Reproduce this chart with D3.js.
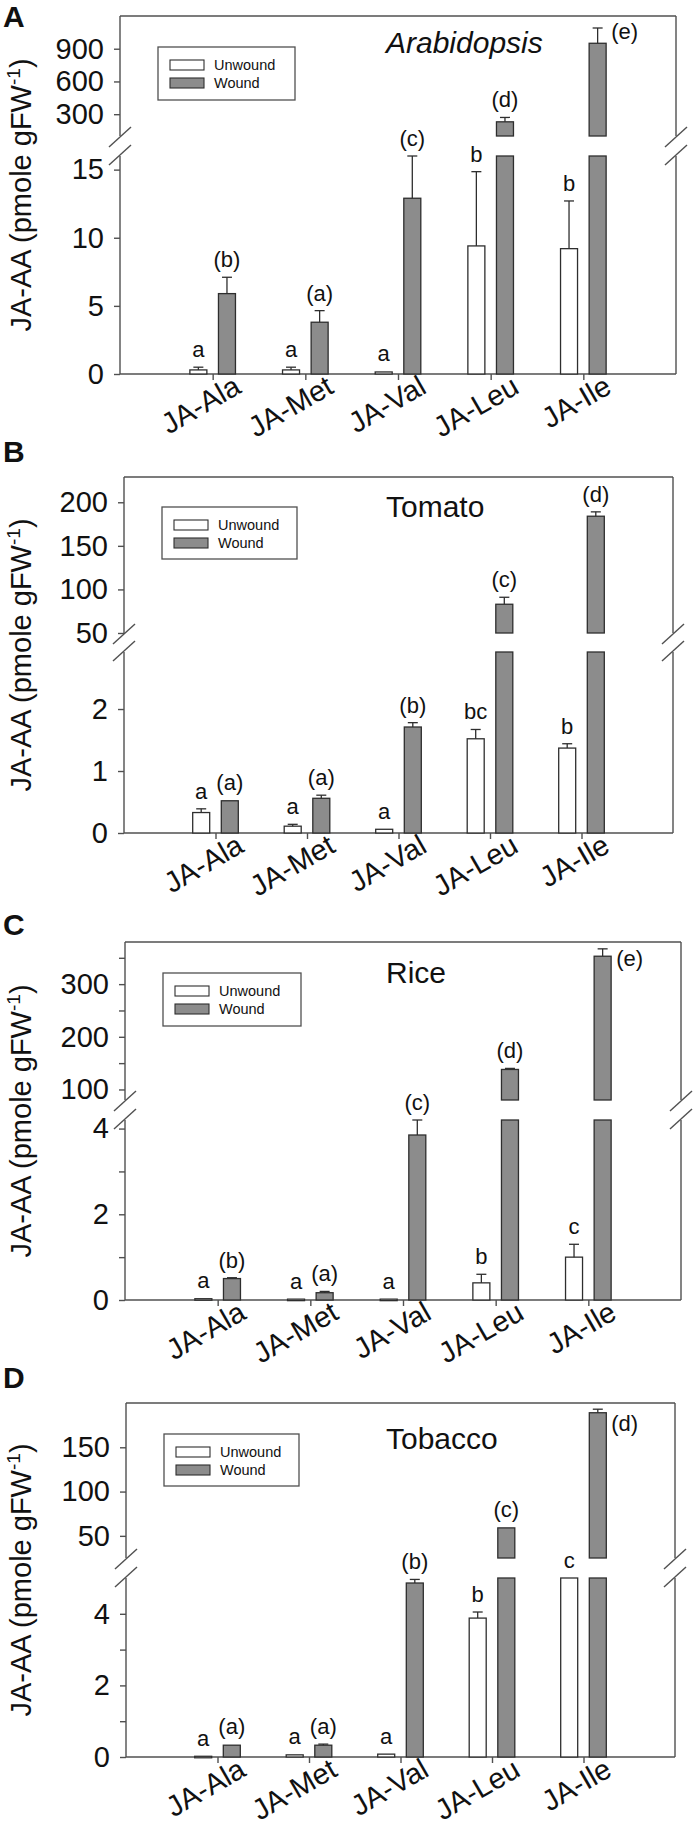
<!DOCTYPE html>
<html><head><meta charset="utf-8">
<script src="https://cdn.jsdelivr.net/npm/d3@7"></script>
<style>
body{margin:0;background:#fff}
svg{display:block}
text{font-family:"Liberation Sans",Arial,sans-serif;fill:#111}
</style>
</head><body><svg id="chart" width="696" height="1832"></svg>
<script>
const categories = ["JA-Ala","JA-Met","JA-Val","JA-Leu","JA-Ile"];
const panelIds = ["A","B","C","D"];
const plantNames = ["Arabidopsis","Tomato","Rice","Tobacco"];
const legendLabels = ["Unwound","Wound"];

// A — Arabidopsis
const arabUnwound = [0.3,0.3,0.15,9.4,9.2];
const arabUnwoundErr = [0.2,0.2,0.05,5.45,3.5];
const arabWound = [5.9,3.8,12.9,230,950];
const arabWoundErr = [1.2,0.85,3.1,40,140];
const arabUnwoundLetters = ["a","a","a","b","b"];
const arabWoundLetters = ["(b)","(a)","(c)","(d)","(e)"];
const arabLowerTicks = [0,5,10,15];
const arabUpperTicks = [300,600,900];

// B — Tomato
const tomUnwound = [0.33,0.11,0.06,1.52,1.37];
const tomUnwoundErr = [0.06,0.03,0.01,0.15,0.07];
const tomWound = [0.52,0.56,1.71,83,184];
const tomWoundErr = [0.01,0.05,0.07,8,5];
const tomUnwoundLetters = ["a","a","a","bc","b"];
const tomWoundLetters = ["(a)","(a)","(b)","(c)","(d)"];
const tomLowerTicks = [0,1,2];
const tomUpperTicks = [50,100,150,200];

// C — Rice
const riceUnwound = [0.03,0.02,0.02,0.4,1.0];
const riceUnwoundErr = [0.01,0.01,0.01,0.2,0.3];
const riceWound = [0.5,0.17,3.85,138,353];
const riceWoundErr = [0.02,0.03,0.4,2,14];
const riceUnwoundLetters = ["a","a","a","b","c"];
const riceWoundLetters = ["(b)","(a)","(c)","(d)","(e)"];
const riceLowerTicks = [0,2,4];
const riceLowerMinor = [1,3];
const riceUpperTicks = [100,200,300];
const riceUpperMinor = [150,250,350];

// D — Tobacco
const tobUnwound = [0.02,0.06,0.08,3.88,5.0];
const tobUnwoundErr = [0.005,0.01,0.01,0.17,0];
const tobWound = [0.33,0.33,4.86,59,189];
const tobWoundErr = [0.02,0.03,0.1,0.5,4];
const tobUnwoundLetters = ["a","a","a","b","c"];
const tobWoundLetters = ["(a)","(a)","(b)","(c)","(d)"];
const tobLowerTicks = [0,2,4];
const tobLowerMinor = [1,3];
const tobUpperTicks = [50,100,150];

const panels = [
  {id:panelIds[0], name:plantNames[0], italic:true,
   unw:arabUnwound, unwErr:arabUnwoundErr, wnd:arabWound, wndErr:arabWoundErr,
   unwL:arabUnwoundLetters, wndL:arabWoundLetters,
   lowTicks:arabLowerTicks, lowMinor:[], upTicks:arabUpperTicks, upMinor:[],
   lowDomain:[0,16], upDomain:[100,1200],
   left:120, right:676, top:16, upBottom:136, lowTop:156, bottom:374,
   letterY:27, titleY:53, legend:[158,47,137,53], sideIdx:4, sideDy:-4},
  {id:panelIds[1], name:plantNames[1], italic:false,
   unw:tomUnwound, unwErr:tomUnwoundErr, wnd:tomWound, wndErr:tomWoundErr,
   unwL:tomUnwoundLetters, wndL:tomWoundLetters,
   lowTicks:tomLowerTicks, lowMinor:[], upTicks:tomUpperTicks, upMinor:[],
   lowDomain:[0,2.92], upDomain:[50,229],
   left:124, right:673, top:477, upBottom:633, lowTop:652, bottom:833,
   letterY:462, titleY:517, legend:[162,507,135,52], sideIdx:-1, sideDy:0},
  {id:panelIds[2], name:plantNames[2], italic:false,
   unw:riceUnwound, unwErr:riceUnwoundErr, wnd:riceWound, wndErr:riceWoundErr,
   unwL:riceUnwoundLetters, wndL:riceWoundLetters,
   lowTicks:riceLowerTicks, lowMinor:riceLowerMinor, upTicks:riceUpperTicks, upMinor:riceUpperMinor,
   lowDomain:[0,4.2], upDomain:[80,380],
   left:125, right:681, top:942, upBottom:1100, lowTop:1120, bottom:1300,
   letterY:935, titleY:983, legend:[163,973,138,53], sideIdx:4, sideDy:10},
  {id:panelIds[3], name:plantNames[3], italic:false,
   unw:tobUnwound, unwErr:tobUnwoundErr, wnd:tobWound, wndErr:tobWoundErr,
   unwL:tobUnwoundLetters, wndL:tobWoundLetters,
   lowTicks:tobLowerTicks, lowMinor:tobLowerMinor, upTicks:tobUpperTicks, upMinor:[],
   lowDomain:[0,5], upDomain:[25,200],
   left:126, right:675, top:1403, upBottom:1558, lowTop:1578, bottom:1757,
   letterY:1388, titleY:1449, legend:[164,1434,135,52], sideIdx:4, sideDy:18}
];

const svg = d3.select("#chart");
const AX = "#505050";
const WOUND = "#8c8c8c";
const BAR_STROKE = "#2e2e2e";
const BW = 17, OFF = 14.3, CAP = 5;

panels.forEach(p => {
  const g = svg.append("g");
  const x = d3.scalePoint().domain(categories).range([p.left, p.right]).padding(1);
  const yLow = d3.scaleLinear().domain(p.lowDomain).range([p.bottom, p.lowTop]);
  const yUp = d3.scaleLinear().domain(p.upDomain).range([p.upBottom, p.top]);
  const lowMax = p.lowDomain[1], upMin = p.upDomain[0];

  const line = (x1,y1,x2,y2) => g.append("line").attr("x1",x1).attr("y1",y1).attr("x2",x2).attr("y2",y2)
      .attr("stroke",AX).attr("stroke-width",1.4);
  line(p.left,p.top,p.right,p.top);
  line(p.left,p.top,p.left,p.upBottom);
  line(p.left,p.lowTop,p.left,p.bottom);
  line(p.right,p.top,p.right,p.upBottom);
  line(p.right,p.lowTop,p.right,p.bottom);
  line(p.left,p.bottom,p.right,p.bottom);
  [p.left,p.right].forEach(bx => {
    [p.upBottom+1,p.lowTop-1].forEach(by => {
      g.append("line").attr("x1",bx-11).attr("y1",by+10).attr("x2",bx+11).attr("y2",by-10)
        .attr("stroke",AX).attr("stroke-width",1.4);
    });
  });

  const styleAxis = sel => {
    sel.select(".domain").remove();
    sel.selectAll(".tick line").attr("stroke",AX).attr("stroke-width",1.4);
    sel.selectAll(".tick text").attr("font-size",29).attr("fill","#111")
      .attr("font-family","'Liberation Sans',Arial,sans-serif");
  };
  g.append("g").attr("transform",`translate(${p.left},0)`)
    .call(d3.axisLeft(yLow).tickValues(p.lowTicks).tickSize(6).tickPadding(10).tickFormat(d3.format("d")))
    .call(styleAxis);
  g.append("g").attr("transform",`translate(${p.left},0)`)
    .call(d3.axisLeft(yUp).tickValues(p.upTicks).tickSize(6).tickPadding(10).tickFormat(d3.format("d")))
    .call(styleAxis);
  if (p.lowMinor.length) g.append("g").attr("transform",`translate(${p.left},0)`)
    .call(d3.axisLeft(yLow).tickValues(p.lowMinor).tickSize(6).tickFormat(""))
    .call(styleAxis);
  if (p.upMinor.length) g.append("g").attr("transform",`translate(${p.left},0)`)
    .call(d3.axisLeft(yUp).tickValues(p.upMinor).tickSize(6).tickFormat(""))
    .call(styleAxis);

  g.append("g").attr("transform",`translate(0,${p.bottom})`)
    .call(d3.axisBottom(x).tickSize(6).tickFormat(""))
    .call(styleAxis);
  categories.forEach(c => {
    const tx = x(c) + 30, ty = p.bottom + 18;
    g.append("text").attr("x",0).attr("y",0)
      .attr("transform",`translate(${tx},${ty}) rotate(-30)`)
      .attr("text-anchor","end").attr("font-size",29).text(c);
  });

  const drawBar = (cx, v, e, fill, letter, side, sideDy) => {
    const x0 = cx - BW/2;
    const lowTopV = Math.min(v, lowMax);
    g.append("rect").attr("x",x0).attr("y",yLow(lowTopV)).attr("width",BW)
      .attr("height",Math.max(yLow(0)-yLow(lowTopV),1.5))
      .attr("fill",fill).attr("stroke",BAR_STROKE).attr("stroke-width",1.3);
    let topY, barTopY;
    if (v >= upMin) {
      g.append("rect").attr("x",x0).attr("y",yUp(v)).attr("width",BW)
        .attr("height",p.upBottom - yUp(v))
        .attr("fill",fill).attr("stroke",BAR_STROKE).attr("stroke-width",1.3);
      barTopY = yUp(v); topY = yUp(v+e);
    } else {
      barTopY = yLow(lowTopV);
      topY = yLow(Math.min(v+e, lowMax));
    }
    if (barTopY - topY > 0.8) {
      g.append("line").attr("x1",cx).attr("x2",cx).attr("y1",barTopY).attr("y2",topY)
        .attr("stroke",BAR_STROKE).attr("stroke-width",1.3);
      g.append("line").attr("x1",cx-CAP).attr("x2",cx+CAP).attr("y1",topY).attr("y2",topY)
        .attr("stroke",BAR_STROKE).attr("stroke-width",1.3);
    }
    if (side) {
      g.append("text").attr("x",cx+BW/2+5).attr("y",barTopY+sideDy)
        .attr("font-size",22).text(letter);
    } else {
      g.append("text").attr("x",cx).attr("y",topY-10).attr("text-anchor","middle")
        .attr("font-size",22).text(letter);
    }
  };
  categories.forEach((c,i) => {
    drawBar(x(c)-OFF, p.unw[i], p.unwErr[i], "#ffffff", p.unwL[i], false, 0);
    drawBar(x(c)+OFF, p.wnd[i], p.wndErr[i], WOUND, p.wndL[i], i===p.sideIdx, p.sideDy);
  });

  const [lx,ly,lw,lh] = p.legend;
  g.append("rect").attr("x",lx).attr("y",ly).attr("width",lw).attr("height",lh)
    .attr("fill","none").attr("stroke",AX).attr("stroke-width",1.3);
  legendLabels.forEach((t,k) => {
    const sy = ly + 13 + k*18;
    g.append("rect").attr("x",lx+12).attr("y",sy).attr("width",34).attr("height",10)
      .attr("fill",k===0?"#fff":WOUND).attr("stroke",BAR_STROKE).attr("stroke-width",1.1);
    g.append("text").attr("x",lx+56).attr("y",sy+10).attr("font-size",14.5).text(t);
  });

  g.append("text").attr("x",386).attr("y",p.titleY).attr("font-size",30)
    .attr("font-style",p.italic?"italic":"normal").text(p.name);

  g.append("text").attr("x",3).attr("y",p.letterY).attr("font-size",30)
    .attr("font-weight","bold").text(p.id);

  const cy = (p.top + p.bottom)/2;
  const yt = g.append("text").attr("transform",`translate(31,${cy}) rotate(-90)`)
    .attr("text-anchor","middle").attr("font-size",29);
  yt.append("tspan").text("JA-AA (pmole gFW");
  yt.append("tspan").attr("font-size",19).attr("dy",-11).text("-1");
  yt.append("tspan").attr("dy",11).text(")");
});
</script>
</body></html>
